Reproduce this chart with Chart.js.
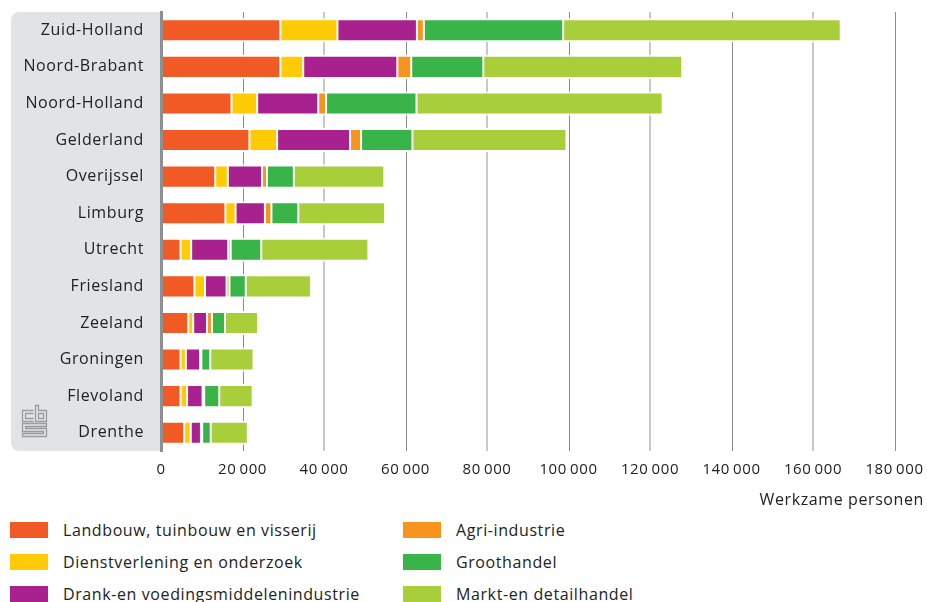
<!DOCTYPE html>
<html lang="nl">
<head>
<meta charset="utf-8">
<title>Werkzame personen per provincie</title>
<script src="https://cdn.jsdelivr.net/npm/chart.js@4/dist/chart.umd.min.js"></script>
<style>
  html, body { margin: 0; padding: 0; background: #ffffff; }
  #wrap { position: relative; width: 927px; height: 602px; overflow: hidden; font-family: "Open Sans", sans-serif; }
  #chart { position: absolute; left: 0; top: 0; }
  #legend { position: absolute; left: 10px; top: 520px; display: grid;
            grid-template-columns: 393px 400px; grid-template-rows: repeat(3, 32px);
            grid-auto-flow: column; }
  .item { display: flex; align-items: center; height: 20px; font-size: 16px; color: #222; letter-spacing: 0.6px; }
  .swatch { width: 38px; height: 16px; margin-right: 15px; flex: none; }
</style>
</head>
<body>
<div id="wrap">
  <canvas id="chart" width="927" height="515"></canvas>
  <div id="legend"></div>
</div>
<script>
// Provinces, top to bottom
const provinces = ['Zuid-Holland', 'Noord-Brabant', 'Noord-Holland', 'Gelderland', 'Overijssel', 'Limburg',
                   'Utrecht', 'Friesland', 'Zeeland', 'Groningen', 'Flevoland', 'Drenthe'];

// Werkzame personen per sector
const landbouw        = [29300, 29300, 17300, 21700, 13300, 15800, 4800, 8200, 6700, 4800, 4800, 5700];
const dienstverlening = [14000, 5600, 6300, 6800, 3100, 2500, 2600, 2600, 1200, 1300, 1600, 1600];
const drankVoeding    = [19500, 23100, 15000, 17900, 8400, 7200, 9100, 5300, 3400, 3500, 3800, 2500];
const agriIndustrie   = [1700, 3400, 1900, 2700, 1200, 1600, 600, 700, 1200, 300, 400, 300];
const groothandel     = [34200, 17700, 22200, 12600, 6600, 6600, 7500, 4000, 3200, 2200, 3700, 2100];
const marktDetail     = [68100, 48800, 60400, 37800, 22200, 21300, 26300, 16000, 8100, 10600, 8200, 9100];

const sectorNames = ['Landbouw, tuinbouw en visserij', 'Dienstverlening en onderzoek',
                     'Drank-en voedingsmiddelenindustrie', 'Agri-industrie', 'Groothandel',
                     'Markt-en detailhandel'];
const sectorColors = ['#F15A24', '#FFCB05', '#A9218E', '#F7941E', '#38B449', '#A8CF3A'];
const sectorValues = [landbouw, dienstverlening, drankVoeding, agriIndustrie, groothandel, marktDetail];

// x-axis tick values
const xTicks = [0, 20000, 40000, 60000, 80000, 100000, 120000, 140000, 160000, 180000];
const xTitle = 'Werkzame personen';

const FONT = '"Open Sans", sans-serif';
const SPACING = '0.6px';
const fmt = v => v === 0 ? '0' : String(v).replace(/\B(?=(\d{3})+(?!\d))/g, '\u2009');

// Grey label panel with the logo, gridlines, and the axis title
const framePlugin = {
  id: 'frame',
  beforeLayout(chart) { chart.ctx.letterSpacing = SPACING; },
  beforeDraw(chart) {
    const { ctx, chartArea } = chart;
    ctx.letterSpacing = SPACING;
    const x0 = 11, y0 = chartArea.top, x1 = chartArea.left, y1 = chartArea.bottom, r = 8;
    ctx.save();
    ctx.fillStyle = '#E2E3E5';
    ctx.beginPath();
    ctx.moveTo(x1, y0);
    ctx.lineTo(x0 + r, y0);
    ctx.arcTo(x0, y0, x0, y0 + r, r);
    ctx.lineTo(x0, y1 - r);
    ctx.arcTo(x0, y1, x0 + r, y1, r);
    ctx.lineTo(x1, y1);
    ctx.closePath();
    ctx.fill();

    // cbs mark
    ctx.translate(22.5, 405.5);
    ctx.strokeStyle = '#9A9B9D';
    ctx.lineWidth = 1.3;
    const paths = [
      'M11 5H0V16H11', 'M11 8H3V13H11',
      'M13 0H16V5H24V16H13Z', 'M16 8H21V13H16Z',
      'M24 18H0V26H21V28H0V31H24V23H3V21H24Z'
    ];
    paths.forEach(p => ctx.stroke(new Path2D(p)));
    ctx.restore();
  },
  beforeDatasetsDraw(chart) {
    const { ctx, chartArea, scales } = chart;
    ctx.save();
    xTicks.forEach((v, i) => {
      if (v === 0) return;
      const px = scales.x.getPixelForValue(v);
      const dark = i % 2 === 1;
      ctx.strokeStyle = dark ? '#8C8C8C' : '#C2C2C2';
      ctx.lineWidth = dark ? 1 : 1.8;
      const x = dark ? Math.round(px) + 0.5 : px;
      ctx.beginPath();
      ctx.moveTo(x, chartArea.top);
      ctx.lineTo(x, chartArea.bottom);
      ctx.stroke();
    });
    ctx.restore();
  },
  afterDraw(chart) {
    const { ctx } = chart;
    ctx.save();
    ctx.font = '16px ' + FONT;
    ctx.fillStyle = '#222';
    ctx.textAlign = 'right';
    ctx.textBaseline = 'middle';
    ctx.fillText(xTitle, 924, 500);
    ctx.restore();
  }
};

const datasets = sectorNames.map((name, i) => ({
  label: name,
  data: sectorValues[i],
  backgroundColor: sectorColors[i],
  borderColor: '#ffffff',
  borderWidth: { top: 2, bottom: 2, left: 1, right: 1 },
  borderSkipped: false,
  barPercentage: 0.66,
  categoryPercentage: 1
}));

new Chart(document.getElementById('chart'), {
  type: 'bar',
  data: { labels: provinces, datasets },
  options: {
    indexAxis: 'y',
    responsive: false,
    animation: false,
    layout: { padding: { top: 12, right: 32.5, left: 0, bottom: 0 } },
    plugins: { legend: { display: false }, tooltip: { enabled: false } },
    scales: {
      x: {
        stacked: true,
        min: 0, max: 180000,
        afterBuildTicks(scale) { scale.ticks = xTicks.map(v => ({ value: v })); },
        afterFit(scale) { scale.height = 64; scale.paddingLeft = 0; scale.paddingRight = 0; },
        ticks: { callback: v => fmt(v), color: '#222', font: { family: FONT, size: 15 }, padding: 10, maxRotation: 0, autoSkip: false },
        grid: { display: false, drawTicks: false },
        border: { display: false }
      },
      y: {
        stacked: true,
        afterFit(scale) { scale.width = 161; scale.paddingTop = 0; scale.paddingBottom = 0; },
        ticks: { color: '#222', font: { family: FONT, size: 16 }, padding: 17 },
        grid: { display: false, drawTicks: false },
        border: { display: true, color: '#8D8F91', width: 3, z: 1 }
      }
    }
  },
  plugins: [framePlugin]
});

// Legend in three rows, two columns
const legend = document.getElementById('legend');
sectorNames.forEach((name, i) => {
  const item = document.createElement('div');
  item.className = 'item';
  const sw = document.createElement('span');
  sw.className = 'swatch';
  sw.style.background = sectorColors[i];
  const tx = document.createElement('span');
  tx.textContent = name;
  item.appendChild(sw);
  item.appendChild(tx);
  legend.appendChild(item);
});
</script>
</body>
</html>
